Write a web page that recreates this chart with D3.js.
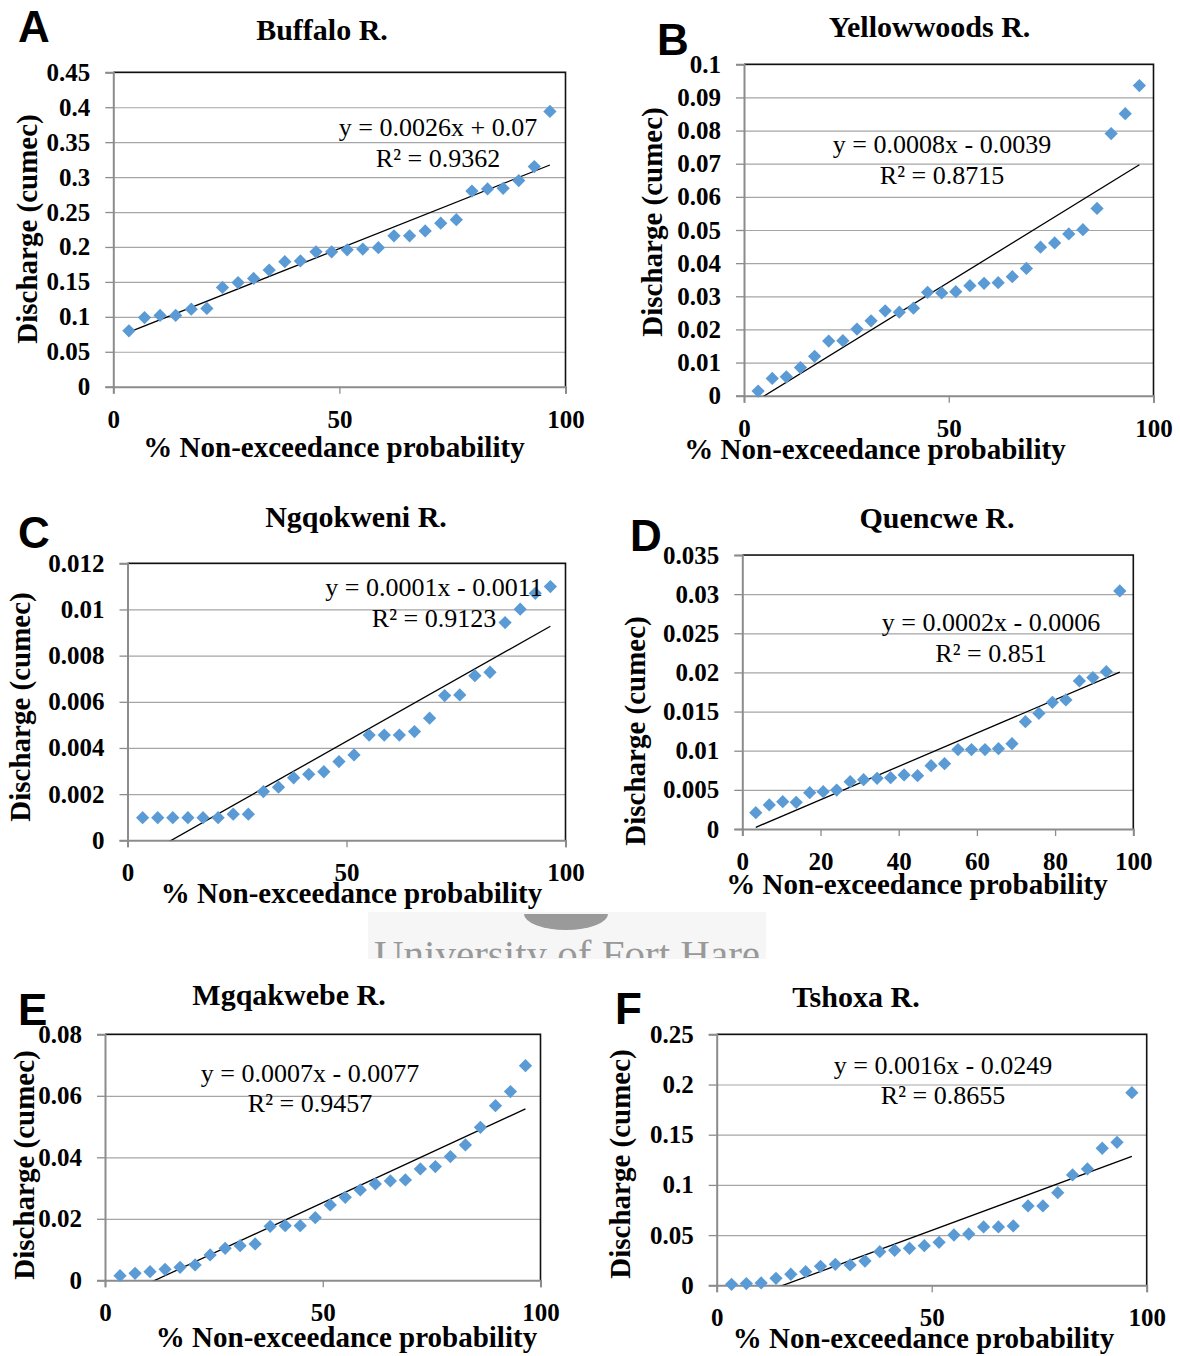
<!DOCTYPE html>
<html><head><meta charset="utf-8">
<script src="https://cdn.jsdelivr.net/npm/d3@7"></script>
<style>
body{margin:0;background:#fff}
svg{display:block}
</style>
</head><body>
<svg id="chart" width="1180" height="1356"></svg>
<script>
// ---------- DATA ----------
const probability = [3.45, 6.90, 10.34, 13.79, 17.24, 20.69, 24.14, 27.59, 31.03, 34.48, 37.93, 41.38, 44.83, 48.28,
  51.72, 55.17, 58.62, 62.07, 65.52, 68.97, 72.41, 75.86, 79.31, 82.76, 86.21, 89.66, 93.10, 96.55];

const buffaloQ = [0.080, 0.099, 0.102, 0.102, 0.111, 0.112, 0.142, 0.149, 0.155, 0.167, 0.179, 0.180, 0.193, 0.193,
  0.196, 0.197, 0.199, 0.216, 0.216, 0.223, 0.234, 0.239, 0.280, 0.283, 0.284, 0.295, 0.315, 0.394];
const yellowwoodsQ = [0.0014, 0.0052, 0.0057, 0.0085, 0.0119, 0.0165, 0.0166, 0.0201, 0.0226, 0.0256, 0.0252, 0.0264,
  0.0312, 0.0310, 0.0314, 0.0332, 0.0339, 0.0341, 0.0359, 0.0384, 0.0448, 0.0461, 0.0488, 0.0501, 0.0565, 0.0791, 0.0851, 0.0936];
const ngqokweniQ = [0.00098, 0.00098, 0.00098, 0.00098, 0.00098, 0.00098, 0.00113, 0.00113, 0.00211, 0.00230, 0.00271,
  0.00286, 0.00297, 0.00341, 0.00370, 0.00456, 0.00456, 0.00456, 0.00471, 0.00529, 0.00627, 0.00630, 0.00713, 0.00728,
  0.00943, 0.01001, 0.01070, 0.01099];
const quencweQ = [0.00209, 0.00307, 0.00349, 0.00341, 0.00464, 0.00477, 0.00498, 0.00605, 0.00630, 0.00647, 0.00656,
  0.00690, 0.00681, 0.00809, 0.00835, 0.01014, 0.01014, 0.01014, 0.01026, 0.01090, 0.01371, 0.01478, 0.01618, 0.01648,
  0.01891, 0.01934, 0.02010, 0.03041];
const mgqakwebeQ = [0.00152, 0.00228, 0.00282, 0.00358, 0.00423, 0.00499, 0.00824, 0.01041, 0.01127, 0.01182, 0.01756,
  0.01778, 0.01778, 0.02038, 0.02450, 0.02699, 0.02938, 0.03133, 0.03230, 0.03263, 0.03621, 0.03697, 0.04022, 0.04401,
  0.04976, 0.05680, 0.06136, 0.06981];
const tshoxaQ = [0.0010, 0.0017, 0.0023, 0.0070, 0.0110, 0.0136, 0.0189, 0.0209, 0.0203, 0.0242, 0.0335, 0.0349, 0.0369,
  0.0395, 0.0428, 0.0501, 0.0511, 0.0581, 0.0581, 0.0591, 0.0790, 0.0790, 0.0923, 0.1099, 0.1159, 0.1365, 0.1424, 0.1919];

const ticksA = [0, 0.05, 0.1, 0.15, 0.2, 0.25, 0.3, 0.35, 0.4, 0.45];
const ticksB = [0, 0.01, 0.02, 0.03, 0.04, 0.05, 0.06, 0.07, 0.08, 0.09, 0.1];
const ticksC = [0, 0.002, 0.004, 0.006, 0.008, 0.01, 0.012];
const ticksD = [0, 0.005, 0.01, 0.015, 0.02, 0.025, 0.03, 0.035];
const ticksE = [0, 0.02, 0.04, 0.06, 0.08];
const ticksF = [0, 0.05, 0.1, 0.15, 0.2, 0.25];
const xTicks3 = [0, 50, 100];
const xTicks6 = [0, 20, 40, 60, 80, 100];

const letters = ["A", "B", "C", "D", "E", "F"];
const titles = ["Buffalo R.", "Yellowwoods R.", "Ngqokweni R.", "Quencwe R.", "Mgqakwebe R.", "Tshoxa R."];
const equations = [
  ["y = 0.0026x + 0.07", "R\u00B2 = 0.9362"],
  ["y = 0.0008x - 0.0039", "R\u00B2 = 0.8715"],
  ["y = 0.0001x - 0.0011", "R\u00B2 = 0.9123"],
  ["y = 0.0002x - 0.0006", "R\u00B2 = 0.851"],
  ["y = 0.0007x - 0.0077", "R\u00B2 = 0.9457"],
  ["y = 0.0016x - 0.0249", "R\u00B2 = 0.8655"]
];
const xLabel = "% Non-exceedance probability";
const yLabel = "Discharge (cumec)";

// ---------- LAYOUT ----------
const layout = [
  {x0:113.3, x1:565.5, y0:72.3, y1:386.7, letter:[18,42], title:[322,40], ylab:[27,229], xlab:[334,457], eq:[438,136,167]},
  {x0:744, x1:1153.5, y0:64.3, y1:395.7, letter:[657,55], title:[929.5,37], ylab:[652,222], xlab:[875,459], eq:[942,153,184]},
  {x0:127.5, x1:565.5, y0:563.3, y1:840.3, letter:[18,548], title:[356,527], ylab:[20,707], xlab:[351.5,903], eq:[434,596,627]},
  {x0:742.3, x1:1133.3, y0:555, y1:829, letter:[630,551], title:[937,528], ylab:[635,731], xlab:[917,894], eq:[991,631,662]},
  {x0:105, x1:540.5, y0:1034.3, y1:1280.3, letter:[18,1025], title:[289,1005], ylab:[24,1165], xlab:[346.5,1347], eq:[310,1082,1112]},
  {x0:716.7, x1:1146.7, y0:1034.3, y1:1285.3, letter:[615,1024], title:[856,1007], ylab:[620,1164], xlab:[923.5,1348], eq:[943,1074,1104]}
];
const series = [buffaloQ, yellowwoodsQ, ngqokweniQ, quencweQ, mgqakwebeQ, tshoxaQ];
const yTickSets = [ticksA, ticksB, ticksC, ticksD, ticksE, ticksF];
const xTickSets = [xTicks3, xTicks3, xTicks3, xTicks6, xTicks3, xTicks3];

const SERIF = "'Liberation Serif','Times New Roman',Times,serif";
const SANS = "'Liberation Sans',Arial,Helvetica,sans-serif";
const fmt = d => String(+d.toFixed(4));

const svg = d3.select("#chart");

// watermark
const wm = svg.append("g");
wm.append("rect").attr("x", 368).attr("y", 912).attr("width", 398).attr("height", 47).attr("fill", "#f6f6f6");
wm.append("path")
  .attr("d", d3.arc()({innerRadius:0, outerRadius:42, startAngle:Math.PI/2, endAngle:3*Math.PI/2}))
  .attr("transform", "translate(566,914) scale(1,0.38)").attr("fill", "#9a9a9a");
svg.append("clipPath").attr("id", "wmclip").append("rect").attr("x", 360).attr("y", 930).attr("width", 420).attr("height", 28);
wm.append("text").attr("x", 567).attr("y", 968).attr("text-anchor", "middle")
  .attr("font-family", SERIF).attr("font-size", 41).attr("fill", "#999")
  .attr("clip-path", "url(#wmclip)").text("University of Fort Hare");

series.forEach((vals, i) => {
  const L = layout[i];
  const g = svg.append("g");
  const x = d3.scaleLinear().domain([0, 100]).range([L.x0, L.x1]);
  const yT = yTickSets[i];
  const y = d3.scaleLinear().domain([0, yT[yT.length - 1]]).range([L.y1, L.y0]);

  // gridlines
  g.append("g").attr("transform", `translate(${L.x0},0)`)
    .call(d3.axisLeft(y).tickValues(yT.slice(1)).tickSize(-(L.x1 - L.x0)).tickFormat(""))
    .call(s => s.select(".domain").remove())
    .call(s => s.selectAll("line").attr("stroke", "#a6a6a6").attr("stroke-width", 1.2));

  // plot border top/right
  g.append("path")
    .attr("d", `M${L.x0},${L.y0}H${L.x1}V${L.y1}`)
    .attr("fill", "none").attr("stroke", "#111").attr("stroke-width", 1.6);

  // y axis
  const ya = g.append("g").attr("transform", `translate(${L.x0},0)`)
    .call(d3.axisLeft(y).tickValues(yT).tickFormat(fmt).tickSize(8).tickPadding(15));
  ya.select(".domain").attr("stroke", "#8c8c8c").attr("stroke-width", 2);
  ya.selectAll("line").attr("stroke", "#8c8c8c").attr("stroke-width", 1.3);
  ya.selectAll("text").attr("font-family", SERIF).attr("font-weight", "bold").attr("font-size", 25).attr("fill", "#000");

  // x axis
  const xa = g.append("g").attr("transform", `translate(0,${L.y1})`)
    .call(d3.axisBottom(x).tickValues(xTickSets[i]).tickFormat(d3.format("d")).tickSize(7));
  xa.select(".domain").attr("stroke", "#8c8c8c").attr("stroke-width", 2);
  xa.selectAll("line").attr("stroke", "#8c8c8c").attr("stroke-width", 1.3);
  xa.selectAll("text").attr("dy", null).attr("y", 41)
    .attr("font-family", SERIF).attr("font-weight", "bold").attr("font-size", 25).attr("fill", "#000");

  // trendline from least squares
  const n = vals.length;
  const mx = d3.mean(probability), my = d3.mean(vals);
  let sxy = 0, sxx = 0;
  for (let k = 0; k < n; k++) { sxy += (probability[k] - mx) * (vals[k] - my); sxx += (probability[k] - mx) ** 2; }
  const slope = sxy / sxx, icpt = my - slope * mx;
  const cid = "clip" + i;
  svg.append("clipPath").attr("id", cid).append("rect")
    .attr("x", L.x0).attr("y", L.y0).attr("width", L.x1 - L.x0).attr("height", L.y1 - L.y0);
  const xe = [probability[0], probability[n - 1]];
  g.append("line").attr("clip-path", `url(#${cid})`)
    .attr("x1", x(xe[0])).attr("y1", y(slope * xe[0] + icpt))
    .attr("x2", x(xe[1])).attr("y2", y(slope * xe[1] + icpt))
    .attr("stroke", "#000").attr("stroke-width", 1.3);

  // points
  const sym = d3.symbol(d3.symbolSquare, 88);
  g.append("g").selectAll("path").data(vals).join("path")
    .attr("d", sym)
    .attr("transform", (d, k) => `translate(${x(probability[k])},${y(d)}) rotate(45)`)
    .attr("fill", "#5B9BD5");

  // equation text
  const eq = g.append("text").attr("font-family", SERIF).attr("font-size", 26).attr("text-anchor", "middle").attr("fill", "#000");
  eq.append("tspan").attr("x", L.eq[0]).attr("y", L.eq[1]).text(equations[i][0]);
  eq.append("tspan").attr("x", L.eq[0]).attr("y", L.eq[2]).text(equations[i][1]);

  // title
  g.append("text").attr("x", L.title[0]).attr("y", L.title[1]).attr("text-anchor", "middle")
    .attr("font-family", SERIF).attr("font-weight", "bold").attr("font-size", 30).text(titles[i]);

  // axis labels
  g.append("text").attr("x", L.xlab[0]).attr("y", L.xlab[1]).attr("text-anchor", "middle")
    .attr("font-family", SERIF).attr("font-weight", "bold").attr("font-size", 29).text(xLabel);
  g.append("text").attr("transform", `translate(${L.ylab[0]},${L.ylab[1]}) rotate(-90)`)
    .attr("text-anchor", "middle").attr("dominant-baseline", "central")
    .attr("font-family", SERIF).attr("font-weight", "bold").attr("font-size", 29).text(yLabel);

  // panel letter
  g.append("text").attr("x", L.letter[0]).attr("y", L.letter[1])
    .attr("font-family", SANS).attr("font-weight", "bold").attr("font-size", 44).text(letters[i]);
});
</script>
</body></html>
